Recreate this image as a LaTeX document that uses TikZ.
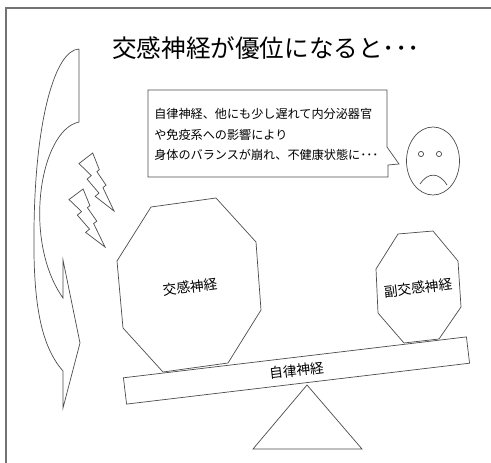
\documentclass[tikz,border=0pt]{standalone}
\usepackage{fontspec}
\setmainfont{Noto Sans CJK JP}
\usetikzlibrary{calc}

\tikzset{
    outl/.style={draw=black!70, line width=0.4pt},
    namefont/.style={font=\fontsize{7.8}{8}\selectfont},
    bolt/.pic={
        \draw[outl, fill=white] (0.392,0) -- (0,0.182) -- (0.350,0.390) -- (0.231,0.450)
            -- (0.570,0.691) -- (0.462,0.748) -- (1,1) -- (0.684,0.596) -- (0.773,0.555)
            -- (0.511,0.322) -- (0.580,0.287) -- cycle;
    }
}

\begin{document}
\begin{tikzpicture}[x=0.02cm, y=-0.02cm]
\useasboundingbox (0,0) rectangle (491,463);

% frame
\draw[black!55, line width=0.9pt] (6,463) -- (6,8) -- (491,8);

\node (title) at (266,48) {\fontsize{14}{16}\selectfont 交感神経が優位になると･･･};

% left silhouette
\draw[outl] (79,49) -- (79,122) .. controls (40,130) and (22,240) .. (63,298)
    -- (63,260) -- (80,343) -- (63,408) -- (63,371)
    .. controls (40,345) and (33,300) .. (34,230)
    .. controls (35,120) and (55,50) .. (79,49);

\pic[xscale=35, yscale=58] at (79,153) {bolt};
\pic[xscale=36, yscale=58] at (69,189) {bolt};

% speech bubble
\draw[outl] (148,90) -- (387,90) -- (387,147) -- (399,164) -- (388,165) -- (388,177)
    -- (148,177) -- cycle;
\node[anchor=north west, inner sep=0pt, align=left, font=\fontsize{6.9}{11.7}\selectfont]
    (msg) at (154,108) {自律神経、他にも少し遅れて内分泌器官\\や免疫系への影響により\\身体のバランスが崩れ、不健康状態に･･･};

% face
\draw[outl] (433,161) ellipse (26.5 and 34);
\draw[outl] (421,154) circle (2.6);
\draw[outl] (439,154) circle (2.6);
\draw[outl] (420,184) .. controls (428,172) and (439,172) .. (447,185);

% balance
\draw[outl, fill=white] (307,385) -- (253,449) -- (362,449) -- cycle;
\draw[outl, fill=white] (151,207) -- (216,198) -- (256,242) -- (261,310) -- (228,363)
    -- (163,372) -- (123,328) -- (117,261) -- cycle;
\draw[outl, fill=white] (398,234) -- (433,231) -- (458,261) -- (461,307) -- (439,339)
    -- (404,343) -- (378,313) -- (376,269) -- cycle;
\node[namefont, rotate=6.8] (symp) at (190,287) {交感神経};
\node[namefont, rotate=6.8] (para) at (418,288) {副交感神経};
\node[outl, fill=white, namefont, rotate=6.8, minimum width=6.91cm, minimum height=0.53cm,
    inner sep=0pt] (beam) at (296.5,370.5) {自律神経};
\end{tikzpicture}
\end{document}
